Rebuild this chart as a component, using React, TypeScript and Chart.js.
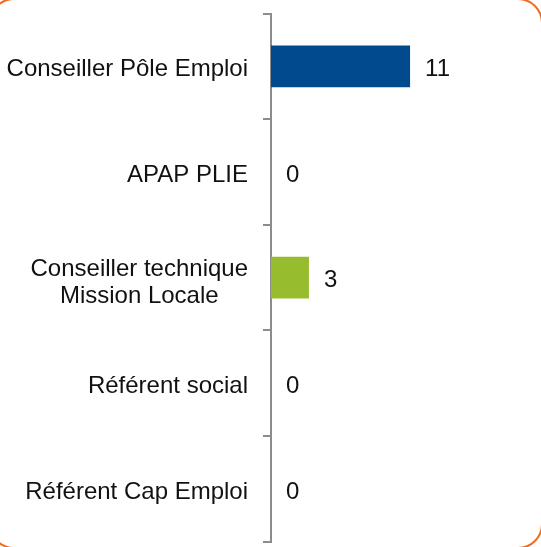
import React, { useEffect, useRef } from "react";
import { Chart, registerables } from "chart.js";

Chart.register(...registerables);

const categories: (string | string[])[] = [
  "Conseiller Pôle Emploi",
  "APAP PLIE",
  ["Conseiller technique", "Mission Locale"],
  "Référent social",
  "Référent Cap Emploi",
];
const values = [11, 0, 3, 0, 0];
const barColors = ["#004A8D", "#004A8D", "#97BD2E", "#97BD2E", "#97BD2E"];
const xMin = 0;
const xMax = 14;

const FONT = '24px "Liberation Sans", Arial, sans-serif';

const labelPlugin = {
  id: "customLabels",
  afterDraw(chart: any) {
    const ctx = chart.ctx;
    const ys = chart.scales.y;
    const xs = chart.scales.x;
    ctx.save();
    ctx.font = FONT;
    ctx.fillStyle = "#111111";
    ctx.textBaseline = "middle";
    const right = ys.right - 8 - 15;
    const lh = 27;
    categories.forEach((lab, i) => {
      const py = ys.getPixelForValue(i) + 3;
      const lines = Array.isArray(lab) ? lab : [lab];
      const widest = Math.max(...lines.map((l) => ctx.measureText(l).width));
      ctx.textAlign = "center";
      const y0 = py + (lines.length > 1 ? 2 : 0) - ((lines.length - 1) * lh) / 2;
      lines.forEach((l, j) => {
        ctx.fillText(l, right - widest / 2, y0 + j * lh);
      });
      ctx.textAlign = "left";
      ctx.fillText(String(values[i]), xs.getPixelForValue(values[i]) + 15, py);
    });
    ctx.restore();
  },
};

export default function App() {
  const ref = useRef<HTMLCanvasElement | null>(null);
  useEffect(() => {
    if (!ref.current) return;
    const chart = new Chart(ref.current, {
      type: "bar",
      data: {
        labels: categories as any,
        datasets: [
          {
            data: values,
            backgroundColor: barColors,
            borderWidth: 0,
            categoryPercentage: 1,
            barPercentage: 0.395,
          },
        ],
      },
      options: {
        indexAxis: "y",
        responsive: false,
        animation: false,
        devicePixelRatio: 1,
        layout: { padding: { top: 13.5, bottom: 5.3, left: 0, right: 93 } },
        plugins: { legend: { display: false }, tooltip: { enabled: false } },
        scales: {
          x: { display: false, min: xMin, max: xMax },
          y: {
            type: "category",
            offset: true,
            grid: {
              display: true,
              drawOnChartArea: false,
              drawTicks: true,
              tickLength: 8,
              color: "#8C8C8C",
              lineWidth: 2,
              offset: true,
            },
            border: { display: true, color: "#8C8C8C", width: 2 },
            ticks: { display: false },
            afterFit: (s: any) => {
              s.width = 271;
            },
          },
        },
      },
      plugins: [labelPlugin],
    });
    return () => chart.destroy();
  }, []);

  return (
    <div
      style={{
        position: "absolute",
        left: 0,
        top: 0,
        width: 541,
        height: 547,
        overflow: "hidden",
        background: "#ffffff",
      }}
    >
      <canvas
        ref={ref}
        width={541}
        height={547}
        style={{ position: "absolute", left: 0, top: 0, width: 541, height: 547 }}
      />
      <div
        style={{
          position: "absolute",
          left: -11,
          top: -2,
          width: 554,
          height: 551,
          boxSizing: "border-box",
          border: "2px solid #F26B1D",
          borderRadius: 25,
          pointerEvents: "none",
        }}
      />
    </div>
  );
}
